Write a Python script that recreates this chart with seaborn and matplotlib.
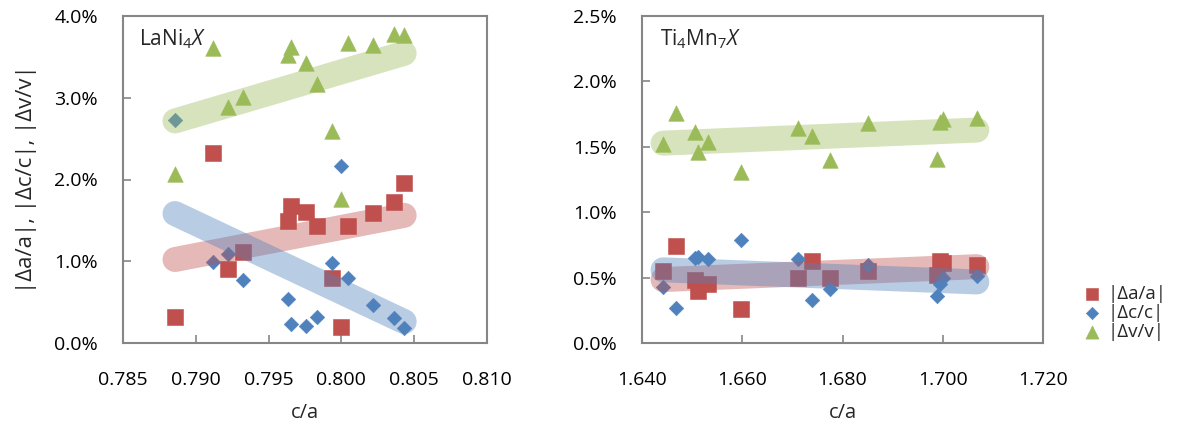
import numpy as np
import pandas as pd
import matplotlib
matplotlib.use("Agg")
import matplotlib.pyplot as plt
import seaborn as sns
from matplotlib.ticker import PercentFormatter, MultipleLocator, FormatStrFormatter

# ---------------- data ----------------
# LaNi4X : c/a and relative changes (%)
lani_ca = [0.78857, 0.79119, 0.79222, 0.79325, 0.79634, 0.79655, 0.79758,
           0.79833, 0.79936, 0.79998, 0.80046, 0.80218, 0.80363, 0.80431]
lani_da = [0.32, 2.32, 0.90, 1.11, 1.49, 1.67, 1.60, 1.43, 0.80, 0.20, 1.43, 1.59, 1.73, 1.96]
lani_dc = [2.73, 0.99, 1.09, 0.77, 0.54, 0.23, 0.21, 0.32, 0.98, 2.16, 0.80, 0.46, 0.30, 0.18]
lani_dv = [2.07, 3.61, 2.89, 3.01, 3.52, 3.62, 3.43, 3.17, 2.59, 1.76, 3.67, 3.65, 3.78, 3.77]

# Ti4Mn7X
ti_ca = [1.6442, 1.6468, 1.6506, 1.6512, 1.6532, 1.6598, 1.6712, 1.6740,
         1.6775, 1.6851, 1.6988, 1.6994, 1.7000, 1.7068]
ti_da = [0.55, 0.74, 0.48, 0.40, 0.45, 0.26, 0.50, 0.63, 0.50, 0.55, 0.52, 0.63, 0.61, 0.60]
ti_dc = [0.43, 0.27, 0.65, 0.66, 0.64, 0.79, 0.64, 0.33, 0.41, 0.60, 0.36, 0.45, 0.50, 0.51]
ti_dv = [1.52, 1.76, 1.61, 1.46, 1.54, 1.31, 1.64, 1.58, 1.40, 1.68, 1.41, 1.69, 1.71, 1.72]

series_labels = ["|\u0394a/a|", "|\u0394c/c|", "|\u0394v/v|"]
panel_titles = [r"LaNi$_4X$", r"Ti$_4$Mn$_7X$"]
x_label = "c/a"
y_label = "|\u0394a/a|, |\u0394c/c|, |\u0394v/v|"

# ---------------- style ----------------
sns.set_theme(style="white")
plt.rcParams["font.family"] = ["Open Sans", "DejaVu Sans"]
plt.rcParams["mathtext.fontset"] = "custom"
plt.rcParams["mathtext.rm"] = "Open Sans"
plt.rcParams["mathtext.it"] = "Open Sans:italic"

colors = ["#C0504D", "#4F81BD", "#9BBB59"]
markers = ["s", "D", "^"]
sizes = [120, 55, 125]
spine_col = "#868686"
FS = 14

fig = plt.figure(figsize=(11.97, 4.34), dpi=100)
ax1 = fig.add_axes([123 / 1197, 1 - 343 / 434, 364 / 1197, 327 / 434])
ax2 = fig.add_axes([642 / 1197, 1 - 343 / 434, 401 / 1197, 327 / 434])

panels = [
    (ax1, lani_ca, [lani_da, lani_dc, lani_dv], (0.785, 0.810), 0.005, (0, 4.0), 1.0, panel_titles[0]),
    (ax2, ti_ca, [ti_da, ti_dc, ti_dv], (1.640, 1.720), 0.02, (0, 2.5), 0.5, panel_titles[1]),
]

for ax, xs, ys_list, xlim, xstep, ylim, ystep, title in panels:
    for ys, col, mk, sz, lab in zip(ys_list, colors, markers, sizes, series_labels):
        sns.scatterplot(x=np.array(xs), y=np.array(ys), ax=ax, color=col, marker=mk,
                        s=sz, linewidth=0.4, edgecolor=col, label=lab, zorder=2)
    for ys, col in zip(ys_list, colors):
        sns.regplot(x=np.array(xs), y=np.array(ys), ax=ax, scatter=False, ci=None,
                    color=col, truncate=True,
                    line_kws=dict(lw=18, alpha=0.4, solid_capstyle="round", zorder=3))
    ax.set_xlim(*xlim)
    ax.set_ylim(*ylim)
    ax.xaxis.set_major_locator(MultipleLocator(xstep))
    ax.yaxis.set_major_locator(MultipleLocator(ystep))
    ax.xaxis.set_major_formatter(FormatStrFormatter("%.3f"))
    ax.yaxis.set_major_formatter(PercentFormatter(xmax=100, decimals=1))
    for sp in ax.spines.values():
        sp.set_color(spine_col)
        sp.set_linewidth(1.5)
        sp.set_visible(True)
    ax.tick_params(axis="both", which="major", direction="in", length=6, width=1.2,
                   color=spine_col, labelsize=FS, labelcolor="black")
    ax.tick_params(axis="x", pad=20, bottom=True)
    ax.tick_params(axis="y", pad=18, left=True)
    ax.set_xlabel(x_label, fontsize=FS + 0.5)
    ax.xaxis.set_label_coords(0.5, -0.185)
    ax.set_ylabel("")
    ax.text(0.045, 0.93, title, transform=ax.transAxes, fontsize=FS + 1,
            ha="left", va="center")
    ax.grid(False)
    lg = ax.get_legend()
    if lg is not None:
        lg.remove()

ax1.set_ylabel(y_label, fontsize=FS + 2)
ax1.yaxis.set_label_coords(-0.235, 0.5)

handles, labels = ax2.get_legend_handles_labels()
fig.legend(handles[:3], labels[:3], loc="center left",
           bbox_to_anchor=(1083 / 1197, 1 - 313 / 434), frameon=False,
           fontsize=FS - 0.5, handlelength=1.0, handletextpad=0.3, labelspacing=0.05,
           markerscale=0.85, borderaxespad=0, borderpad=0)

fig.savefig("out.png", dpi=100)
